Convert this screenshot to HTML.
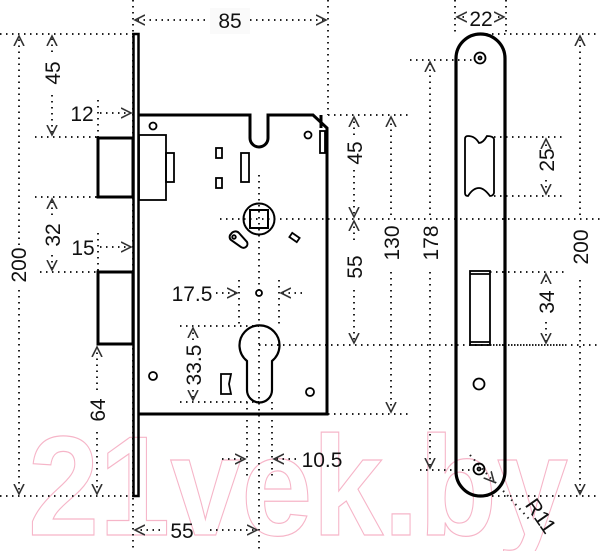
<!DOCTYPE html>
<html><head><meta charset="utf-8"><style>
html,body{margin:0;padding:0;background:#fff;}
svg{display:block;}
text{font-family:"Liberation Sans",sans-serif;font-size:21px;fill:#111;}
</style></head><body>
<svg width="600" height="551" viewBox="0 0 600 551" xmlns="http://www.w3.org/2000/svg">
<defs>
<marker id="a" markerWidth="6" markerHeight="6" refX="5" refY="3" orient="auto"><path d="M0,0.5 L5,3 L0,5.5" fill="none" stroke="#333" stroke-width="0.8"/></marker>
</defs>
<text x="28" y="535" textLength="540" lengthAdjust="spacingAndGlyphs" style="font-size:142px;font-weight:bold;fill:none;stroke:#f6b5c8;stroke-width:1.2">21vek.by</text>

<g fill="none" stroke="#222" stroke-width="2" stroke-dasharray="1.5 4.5">
<line x1="133" y1="0" x2="133" y2="551"/>
<line x1="328" y1="0" x2="328" y2="115"/>
<line x1="0" y1="34" x2="133" y2="34"/>
<line x1="35" y1="137" x2="98" y2="137"/>
<line x1="35" y1="197" x2="98" y2="197"/>
<line x1="40" y1="272" x2="98" y2="272"/>
<line x1="98" y1="100" x2="98" y2="137"/>
<line x1="98" y1="233" x2="98" y2="272"/>
<line x1="0" y1="496" x2="133" y2="496"/>
<line x1="259" y1="175" x2="259" y2="551"/>
<line x1="220" y1="219" x2="600" y2="219"/>
<line x1="239" y1="280" x2="239" y2="328"/>
<line x1="279" y1="280" x2="279" y2="328"/>
<line x1="180" y1="326" x2="259" y2="326"/>
<line x1="180" y1="402" x2="259" y2="402"/>
<line x1="259" y1="345" x2="600" y2="345"/>
<line x1="247" y1="402" x2="247" y2="478"/>
<line x1="272" y1="402" x2="272" y2="478"/>
<line x1="328" y1="115" x2="410" y2="115"/>
<line x1="328" y1="414" x2="410" y2="414"/>
<line x1="410" y1="60" x2="472" y2="60"/>
<line x1="420" y1="470" x2="472" y2="470"/>
<line x1="455" y1="0" x2="455" y2="32"/>
<line x1="506" y1="0" x2="506" y2="32"/>
<line x1="480" y1="34" x2="600" y2="34"/>
<line x1="494" y1="137" x2="565" y2="137"/>
<line x1="494" y1="196" x2="565" y2="196"/>
<line x1="490" y1="272" x2="565" y2="272"/>
<line x1="490" y1="345" x2="565" y2="345"/>
<line x1="480" y1="496" x2="600" y2="496"/>
<line x1="495" y1="482" x2="530" y2="520"/>
</g>
<g fill="none" stroke="#222" stroke-width="2" stroke-dasharray="1.5 4.5">
<path d="M205,20 L135,20" marker-end="url(#a)"/>
<path d="M250,20 L326,20" marker-end="url(#a)"/>
<path d="M19,245 L19,36" marker-end="url(#a)"/>
<path d="M19,290 L19,494" marker-end="url(#a)"/>
<path d="M52,52 L52,36" marker-end="url(#a)"/>
<path d="M52,95 L52,135" marker-end="url(#a)"/>
<path d="M52,215 L52,199" marker-end="url(#a)"/>
<path d="M52,255 L52,270" marker-end="url(#a)"/>
<path d="M100,113 L131,113" marker-end="url(#a)"/>
<path d="M100,247 L131,247" marker-end="url(#a)"/>
<path d="M97,390 L97,347" marker-end="url(#a)"/>
<path d="M97,432 L97,494" marker-end="url(#a)"/>
<path d="M216,293 L237,293" marker-end="url(#a)"/>
<path d="M302,293 L281,293" marker-end="url(#a)"/>
<path d="M193,340 L193,328" marker-end="url(#a)"/>
<path d="M193,390 L193,400" marker-end="url(#a)"/>
<path d="M222,459 L245,459" marker-end="url(#a)"/>
<path d="M296,459 L274,459" marker-end="url(#a)"/>
<path d="M160,530 L135,530" marker-end="url(#a)"/>
<path d="M210,530 L257,530" marker-end="url(#a)"/>
<path d="M354,135 L354,117" marker-end="url(#a)"/>
<path d="M354,170 L354,217" marker-end="url(#a)"/>
<path d="M354,240 L354,221" marker-end="url(#a)"/>
<path d="M354,290 L354,343" marker-end="url(#a)"/>
<path d="M391,215 L391,117" marker-end="url(#a)"/>
<path d="M391,272 L391,412" marker-end="url(#a)"/>
<path d="M430,215 L430,62" marker-end="url(#a)"/>
<path d="M430,272 L430,468" marker-end="url(#a)"/>
<path d="M464,17 L457,17" marker-end="url(#a)"/>
<path d="M498,17 L504,17" marker-end="url(#a)"/>
<path d="M546,146 L546,139" marker-end="url(#a)"/>
<path d="M546,180 L546,194" marker-end="url(#a)"/>
<path d="M546,282 L546,274" marker-end="url(#a)"/>
<path d="M546,322 L546,343" marker-end="url(#a)"/>
<path d="M580,215 L580,36" marker-end="url(#a)"/>
<path d="M580,280 L580,494" marker-end="url(#a)"/>
<path d="M470,455 L494,482" marker-end="url(#a)"/>
</g>

<g fill="none" stroke="#000" stroke-width="3">
<rect x="133.5" y="34" width="5" height="462" stroke-width="2.5"/>
<path d="M139,115 L250,115 L250,138 A9,9 0 0 0 268,138 L268,115 L313,115 L327,128 L327,414 L139,414"/>
<rect x="98" y="138" width="35" height="59"/>
<rect x="98" y="272" width="35" height="72"/>
</g>
<g fill="none" stroke="#000" stroke-width="1.8">
<line x1="321" y1="115" x2="321" y2="128" stroke-width="3"/>
<rect x="139" y="135" width="27" height="65"/>
<rect x="166" y="153" width="8" height="29"/>
<circle cx="153" cy="126" r="3.5"/>
<circle cx="308" cy="135" r="3.5"/>
<rect x="320" y="131" width="5" height="22"/>
<rect x="216" y="148" width="6" height="10"/>
<rect x="216" y="178" width="6" height="10"/>
<rect x="241" y="153" width="8" height="29"/>
<circle cx="259" cy="219" r="15.5" stroke-width="2"/>
<rect x="250" y="210" width="18" height="18" stroke-width="2"/>
<path d="M231,234 a5,5 0 0 1 8,-1 l8,9 a4,4 0 0 1 -6,5 l-10,-7 a4,4 0 0 1 0,-6z" stroke-width="2"/>
<circle cx="234" cy="237" r="1.8"/>
<rect x="290" y="235" width="9" height="5" transform="rotate(35 294.5 237.5)"/>
<circle cx="259" cy="293" r="3"/>
<path d="M247,361 A20,20 0 1 1 272,361 L272,390 A12.5,12.5 0 0 1 247,390 Z" stroke-width="2.2"/>
<circle cx="153" cy="376" r="4"/>
<circle cx="310" cy="392" r="4"/>
<path d="M221,374 L231,374 L229,384 L231,394 L221,394 Z"/>
</g>

<g fill="none" stroke="#000">
<rect x="456" y="34" width="49" height="462" rx="24.5" stroke-width="3.2"/>
<g stroke-width="1.8">
<circle cx="480" cy="58" r="5.5"/><circle cx="480" cy="58" r="1.5"/>
<circle cx="479" cy="384" r="5.5"/>
<circle cx="479" cy="469" r="5.5"/><circle cx="479" cy="469" r="1.5"/>
<path d="M465,139 Q465,136 468,136 Q475,136 479,143 Q483,143 487,136 Q493,136 494,139 L494,193 Q493,196 490,196 Q484,188 479,188 Q473,188 468,196 Q465,196 465,193 Z"/>
<rect x="470" y="271" width="20" height="74"/>
<line x1="470" y1="274" x2="490" y2="274"/>
<line x1="470" y1="342" x2="490" y2="342"/>
</g>
</g>

<g>
<rect x="210" y="8" width="40" height="26" fill="#fafafa"/><text x="230" y="28" text-anchor="middle">85</text>
<text x="481" y="26" text-anchor="middle">22</text>
<text x="82" y="121" text-anchor="middle">12</text>
<text x="83" y="255" text-anchor="middle">15</text>
<text x="192" y="301" text-anchor="middle">17.5</text>
<text x="322" y="467" text-anchor="middle">10.5</text>
<text x="182" y="538" text-anchor="middle">55</text>
<text transform="translate(60,73) rotate(-90)" text-anchor="middle">45</text>
<text transform="translate(60,235) rotate(-90)" text-anchor="middle">32</text>
<text transform="translate(26,265) rotate(-90)" text-anchor="middle">200</text>
<text transform="translate(105,410) rotate(-90)" text-anchor="middle">64</text>
<text transform="translate(201,365) rotate(-90)" text-anchor="middle">33.5</text>
<text transform="translate(362,153) rotate(-90)" text-anchor="middle">45</text>
<text transform="translate(362,267) rotate(-90)" text-anchor="middle">55</text>
<text transform="translate(399,243) rotate(-90)" text-anchor="middle">130</text>
<text transform="translate(438,243) rotate(-90)" text-anchor="middle">178</text>
<text transform="translate(554,160) rotate(-90)" text-anchor="middle">25</text>
<text transform="translate(554,302) rotate(-90)" text-anchor="middle">34</text>
<text transform="translate(588,247) rotate(-90)" text-anchor="middle">200</text>
<text transform="translate(535,520) rotate(55)" text-anchor="middle">R11</text>
</g>
</svg>
</body></html>
